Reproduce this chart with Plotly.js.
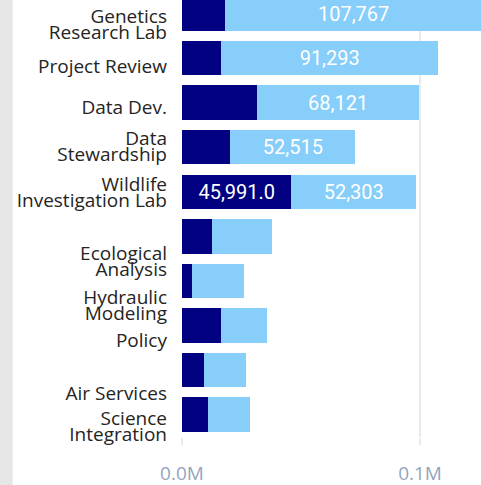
<!DOCTYPE html>
<html>
<head>
<meta charset="utf-8">
<script src="https://cdn.plot.ly/plotly-3.0.1.min.js"></script>
<style>
  html, body { margin: 0; padding: 0; background: #ffffff; }
  #wrap { position: relative; width: 481px; height: 485px; overflow: hidden; }
  #chart { position: absolute; left: 0; top: 0; width: 481px; height: 485px; }
  #strip { position: absolute; left: 0; top: 0; width: 12px; height: 485px; background: #e6e6e6; border-right: 1px solid #ededed; }
</style>
</head>
<body>
<div id="wrap"><div id="chart"></div><div id="strip"></div></div>
<script>
// ---- data ----
const categories = [
  "Genetics<br>Research Lab",
  "Project Review",
  "Data Dev.",
  "Data<br>Stewardship",
  "Wildlife<br>Investigation Lab",
  "Ecological<br>Analysis",
  "Hydraulic<br>Modeling",
  "Policy",
  "Air Services",
  "Science<br>Integration"
];
const darkValues  = [18200, 16400, 31500, 20300, 45991.0, 12600, 4300, 16400, 9100, 10900];
const lightValues = [107767, 91293, 68121, 52515, 52303, 25200, 21800, 19300, 17600, 17500];
const darkLabelShown  = [false, false, false, false, true, false, false, false, false, false];
const lightLabelShown = [true, true, true, true, true, false, false, false, false, false];
const xTickVals  = [0, 100000];
const xTickText  = ["0.0M", "0.1M"];

// ---- layout helpers (label placement, px) ----
const labelBaselineShiftPx = [17.8, 14.8, 11.3, 6, 7.5, 31.8, 30.7, 21, 30.3, 18.4];
const H = 485, marginB = 48, marginT = 0;
const plotH = H - marginB - marginT;
const yTop = -0.303, yBottom = 9.5;
const pxPerUnit = plotH / (yBottom - yTop);
const labelFont = 19;
const lineGapPx = 16;
const midShift = 0.35 * labelFont;

const idx = categories.map((c, i) => i);
const tickVals = [], tickText = [];
categories.forEach((c, i) => {
  const lines = c.split("<br>");
  const n = lines.length;
  lines.forEach((ln, k) => {
    const baseline = labelBaselineShiftPx[i] + (k - (n - 1) / 2) * lineGapPx;
    tickVals.push(i + (baseline - midShift) / pxPerUnit);
    tickText.push(ln);
  });
});

const fmt0 = v => Math.round(v).toLocaleString("en-US");
const fmt1 = v => v.toLocaleString("en-US", {minimumFractionDigits: 1, maximumFractionDigits: 1});

const textFont = {family: "Roboto, Liberation Sans, sans-serif", size: 20, color: "#ffffff"};

const traces = [
  {
    type: "bar", orientation: "h",
    y: idx, x: darkValues,
    marker: {color: "#000080"},
    text: darkValues.map((v, i) => darkLabelShown[i] ? fmt1(v) : ""),
    textposition: "inside", insidetextanchor: "middle", textangle: 0,
    constraintext: "none",
    textfont: textFont,
    hoverinfo: "x"
  },
  {
    type: "bar", orientation: "h",
    y: idx, x: lightValues,
    marker: {color: "#87cefa"},
    text: lightValues.map((v, i) => lightLabelShown[i] ? fmt0(v) : ""),
    textposition: "inside", insidetextanchor: "middle", textangle: 0,
    constraintext: "none",
    textfont: textFont,
    hoverinfo: "x"
  }
];

const layout = {
  width: 481, height: H,
  margin: {l: 182, r: 0, t: marginT, b: marginB, pad: 0},
  paper_bgcolor: "#ffffff", plot_bgcolor: "#ffffff",
  barmode: "stack", bargap: 0.226,
  showlegend: false,
  xaxis: {
    range: [0, 125600],
    tickvals: xTickVals, ticktext: xTickText,
    showgrid: true, gridcolor: "#eaeaea", gridwidth: 2,
    zeroline: false, showline: false,
    ticks: "outside", ticklen: 7, tickcolor: "#eaeaea", tickwidth: 2,
    tickfont: {family: "Open Sans, sans-serif", size: 19, color: "#93a5bd"},
    ticklabelstandoff: 12,
    fixedrange: true
  },
  yaxis: {
    range: [yBottom, yTop],
    tickvals: tickVals, ticktext: tickText,
    showgrid: false, zeroline: false, showline: false,
    ticks: "",
    tickfont: {family: "Open Sans, sans-serif", size: labelFont, color: "#252423"},
    ticklabelstandoff: 14,
    fixedrange: true
  },
  font: {family: "Open Sans, sans-serif"}
};

Plotly.newPlot("chart", traces, layout, {displayModeBar: false, staticPlot: true});
</script>
</body>
</html>
